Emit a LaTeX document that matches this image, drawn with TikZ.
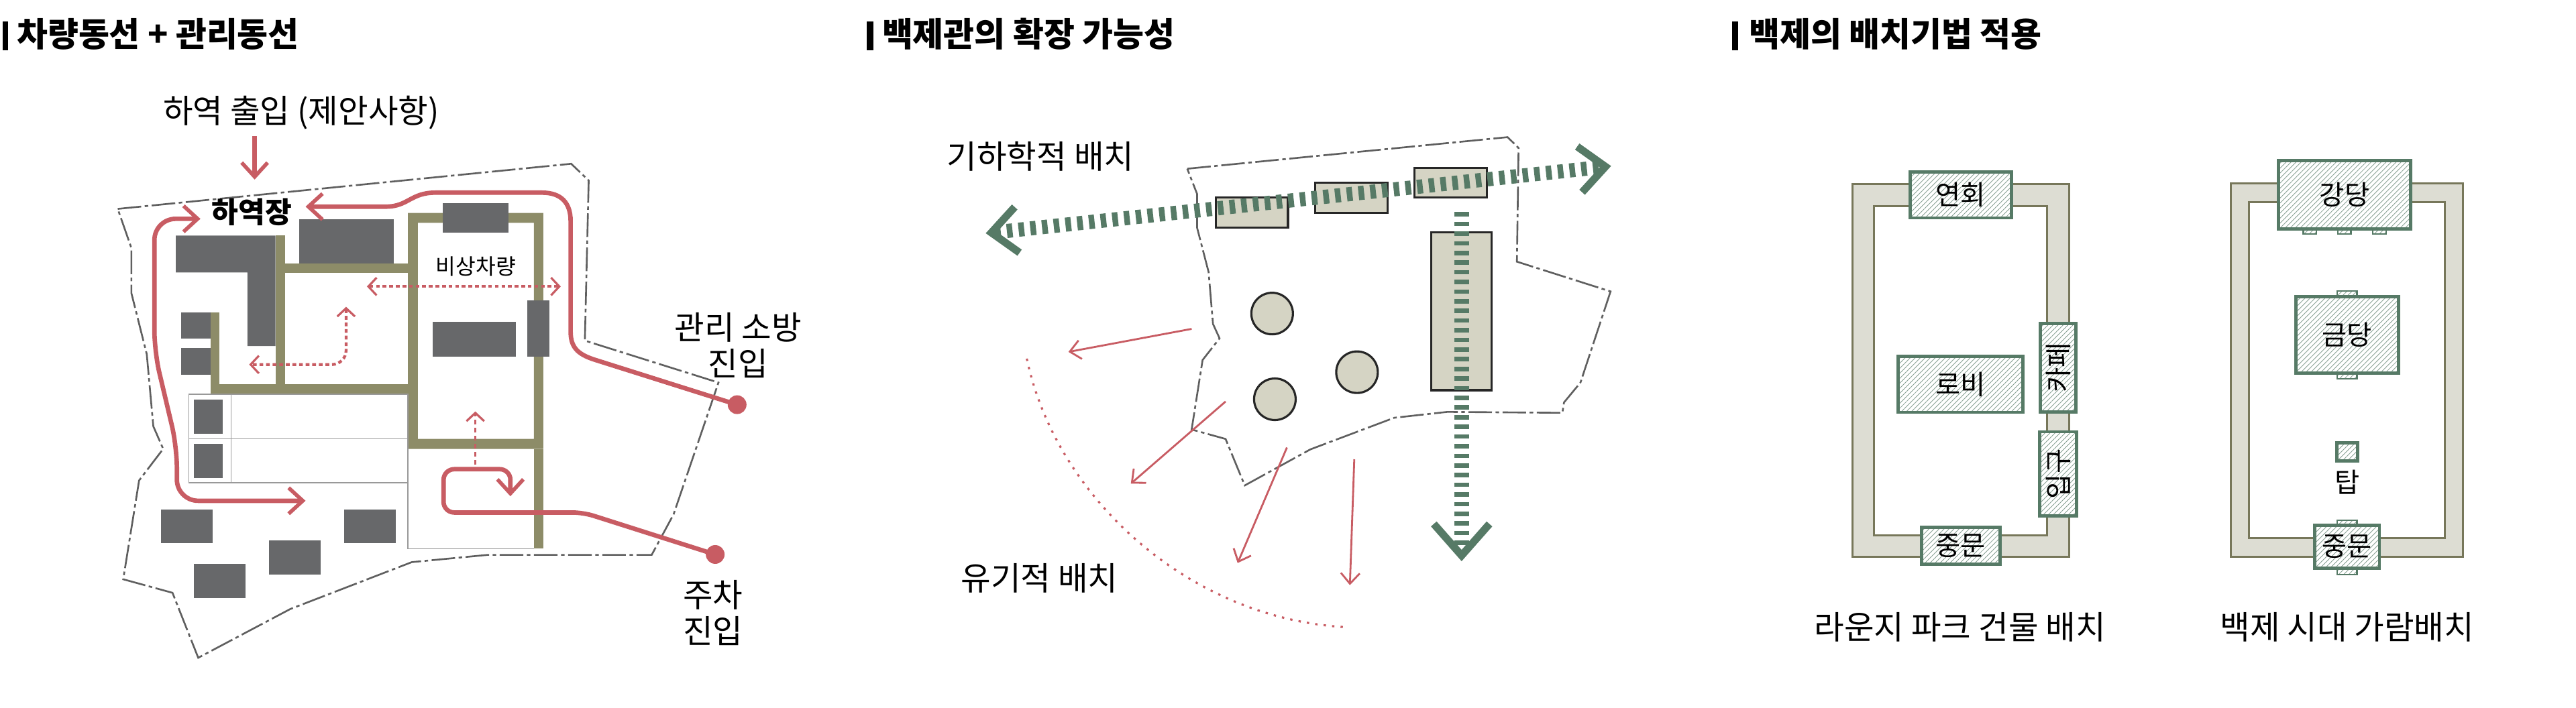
\documentclass[tikz,border=0pt]{standalone}
\usepackage{fontspec}
\setmainfont{Noto Sans CJK KR}
\usetikzlibrary{arrows.meta,shapes.geometric,patterns.meta}
\definecolor{bldgray}{HTML}{67686A}
\definecolor{roadolive}{HTML}{8D8C68}
\definecolor{routered}{HTML}{C85C63}
\definecolor{axisgreen}{HTML}{567A66}
\definecolor{masssand}{HTML}{D5D4C4}
\definecolor{wallsand}{HTML}{DDDDD3}
\definecolor{wallline}{HTML}{77775A}
\definecolor{siteline}{HTML}{5F5F5F}

\begin{document}
\begin{tikzpicture}[x=0.008163cm,y=-0.006722cm,
titletext/.style={anchor=west,inner sep=0pt,font=\fontsize{14.2}{16}\selectfont\bfseries},
titlebar/.style={fill=black},
lbl/.style={align=center,inner sep=0pt,font=\fontsize{13.8}{15.3}\selectfont},
smalllbl/.style={inner sep=0pt,font=\fontsize{9.2}{10}\selectfont},
site/.style={draw=siteline,line width=0.75pt,dash pattern=on 10pt off 1.5pt on 1.5pt off 1.5pt},
road/.style={fill=roadolive},
bld/.style={fill=bldgray},
lot/.style={draw=black!40,line width=0.4pt},
route/.style={draw=routered,line width=1.9pt,rounded corners=9pt},
routetip/.style={-{Straight Barb[length=6pt,width=11pt,line width=1.6pt]}},
fromtip/.style={{Straight Barb[length=6pt,width=11pt,line width=1.6pt]}-{Straight Barb[length=6pt,width=11pt,line width=1.6pt]}},
enddot/.style={circle,fill=routered,inner sep=0pt,minimum size=.28cm},
dotted route/.style={draw=routered,line width=1.2pt,dash pattern=on 1.6pt off 1.2pt,rounded corners=6pt},
dottip/.style={{Straight Barb[length=3.5pt,width=7.5pt,line width=0.9pt]}-{Straight Barb[length=3.5pt,width=7.5pt,line width=0.9pt]}},
dotone/.style={-{Straight Barb[length=3.5pt,width=7.5pt,line width=0.9pt]}},
mass/.style={draw=black!85,fill=masssand,line width=0.9pt},
roundbld/.style={circle,draw=black!85,fill=masssand,line width=0.9pt,inner sep=0pt,minimum size=.62cm},
axisline/.style={draw=axisgreen,line width=6pt,dash pattern=on 2.4pt off 2.6pt,{Straight Barb[length=11pt,width=19.5pt,line width=3.2pt]}-{Straight Barb[length=11pt,width=19.5pt,line width=3.2pt]}},
axisdown/.style={draw=axisgreen,line width=6.2pt,dash pattern=on 1.9pt off 2.2pt,-{Straight Barb[length=13.4pt,width=23.6pt,line width=3.2pt]}},
thinred/.style={draw=routered,line width=0.8pt,-{Straight Barb[length=4.5pt,width=8pt,line width=0.8pt]}},
arcdots/.style={draw=routered,line width=0.9pt,dash pattern=on 1pt off 2.6pt},
wall/.style={fill=wallsand,draw=wallline,line width=0.8pt,even odd rule},
hatchbox/.style={draw=axisgreen,line width=1.4pt,inner sep=0pt,preaction={fill=white},pattern={Lines[angle=45,distance=1.5pt,line width=0.25pt]},pattern color=axisgreen!70,font=\fontsize{11.5}{13}\selectfont},
tabbox/.style={draw=axisgreen,line width=0.6pt,preaction={fill=white},pattern={Lines[angle=45,distance=1.5pt,line width=0.25pt]},pattern color=axisgreen!70}]
\useasboundingbox (0,0) rectangle (4704,1568);

\fill[titlebar] (5,48) rectangle (15,112);
\node[titletext] (t1) at (30,76) {차량동선 + 관리동선};
\node[lbl] (l1) at (550,250) {하역 출입 (제안사항)};
\draw[site] (215,463) -- (1043,363) -- (1075,400) -- (1068,755) -- (1312,848) -- (1230,1140) -- (1190,1230) -- (890,1230) -- (752,1246) -- (530,1350) -- (362,1458) -- (315,1314) -- (225,1284) -- (254,1065) -- (298,995) -- (280,945) -- (268,785) -- (240,650) -- (240,550) -- cycle;
\fill[road,even odd rule] (745,472) rectangle (992,995) (763,494) rectangle (975,973);
\fill[road] (975,995) rectangle (992,1216);
\fill[road] (385,693) rectangle (400,852);
\fill[road] (385,852) rectangle (745,874);
\fill[road] (503,522) rectangle (521,852);
\fill[road] (521,584) rectangle (745,605);
\draw[lot] (345,874) rectangle (745,1070);
\draw[lot] (345,973) -- (745,973);
\draw[lot] (422,874) -- (422,1070);
\draw[lot] (975,1216) -- (745,1216) -- (745,995);
\fill[bld] (321,522) -- (503,522) -- (503,767) -- (452,767) -- (452,604) -- (321,604) -- cycle;
\fill[bld] (546,486) rectangle (719,584);
\fill[bld] (809,450) rectangle (928,516);
\fill[bld] (790,714) rectangle (942,791);
\fill[bld] (963,666) rectangle (1003,791);
\fill[bld] (331,693) rectangle (385,751);
\fill[bld] (331,772) rectangle (385,831);
\fill[bld] (354,885) rectangle (407,962);
\fill[bld] (354,984) rectangle (407,1060);
\fill[bld] (294,1129) rectangle (388,1204);
\fill[bld] (628,1129) rectangle (723,1204);
\fill[bld] (491,1198) rectangle (586,1273);
\fill[bld] (354,1250) rectangle (448,1325);
\node[inner sep=0pt,font=\fontsize{12.3}{14}\selectfont\bfseries] (yard) at (460,470) {하역장};
\node[smalllbl] (l2) at (869,590) {비상차량};
\node[enddot] (gate1) at (1346,897) {};
\node[enddot] (gate2) at (1306,1229) {};
\coordinate (inA) at (465,302);
\coordinate (inB) at (465,398);
\draw[route,routetip] (inA) -- (inB);
\draw[route,routetip,sharp corners] (gate1.center) -- (1085,797) .. controls (1055,785) and (1042,770) .. (1042,735) -- (1042,490) .. controls (1042,450) and (1025,427) .. (990,427) -- (795,427) .. controls (750,427) and (745,458) .. (705,458) -- (558,458);
\draw[route,fromtip] (366,485) -- (282,485) -- (282,780) -- (323,990) -- (323,1110) -- (558,1110);
\draw[route,routetip,rounded corners=4.5pt] (gate2.center) -- (1065,1136) -- (810,1136) -- (810,1040) -- (932,1040) -- (932,1100);
\draw[dotted route,dottip] (670,635) -- (1024,635);
\draw[dotted route,dottip] (632,680) -- (632,808) -- (455,808);
\draw[dotted route,dotone,line width=1pt,dash pattern=on 2pt off 1.4pt] (868,1030) -- (868,912);
\node[lbl] (l3) at (1348,765) {관리 소방\\진입};
\node[lbl] (l4) at (1302,1358) {주차\\진입};

\begin{scope}[shift={(1568,0)}]
\fill[titlebar] (15,48) rectangle (27,112);
\node[titletext] (t2) at (42,76) {백제관의 확장 가능성};
\node[lbl] (l5) at (332,347) {기하학적 배치};
\node[lbl] (l6) at (330,1282) {유기적 배치};
\draw[site] (600,374) -- (1185,304) -- (1205,328) -- (1202,580) -- (1373,646) -- (1318,848) -- (1288,892) -- (1285,915) -- (1075,913) -- (978,926) -- (825,996) -- (705,1076) -- (670,973) -- (608,952) -- (628,798) -- (659,750) -- (647,718) -- (639,603) -- (618,505) -- (618,430) -- cycle;
\draw[mass] (652,438) rectangle (784,505);
\draw[mass] (834,405) rectangle (966,472);
\draw[mass] (1015,372) rectangle (1147,438);
\draw[mass] (1046,515) rectangle (1156,865);
\node[roundbld] (c1) at (755,695) {};
\node[roundbld] (c2) at (760,885) {};
\node[roundbld] (c3) at (910,825) {};
\coordinate (axisW) at (232,517);
\coordinate (axisE) at (1374,368);
\draw[axisline] (axisW) -- (axisE);
\draw[axisdown] (1101,470) -- (1101,1244);
\draw[thinred] (608,729) -- (383,780);
\draw[thinred] (670,890) -- (497,1072);
\draw[thinred] (782,992) -- (692,1248);
\draw[thinred] (905,1018) -- (897,1297);
\draw[arcdots] (307,795) .. controls (360,1100) and (600,1370) .. (888,1390);
\end{scope}

\begin{scope}[shift={(3136,0)}]
\fill[titlebar] (27,48) rectangle (38,112);
\node[titletext] (t3) at (57,76) {백제의 배치기법 적용};
\draw[wall] (247,408) rectangle (642,1234) (286,457) rectangle (602,1187);
\node[hatchbox,minimum width=1.51cm,minimum height=.686cm] (banquet) at (444.5,432) {연회};
\node[hatchbox,minimum width=1.861cm,minimum height=.834cm] (lobby) at (444,852) {로비};
\node[hatchbox,rotate=90,minimum width=1.324cm,minimum height=.531cm] (cafe) at (622.5,815.5) {카페};
\node[hatchbox,rotate=90,minimum width=1.257cm,minimum height=.547cm] (entry) at (622.5,1050.5) {입구};
\node[hatchbox,minimum width=1.167cm,minimum height=.551cm] (gateA) at (444.5,1210) {중문};
\node[lbl] (l7) at (443,1390) {라운지 파크 건물 배치};
\draw[wall] (938,407) rectangle (1362,1234) (971,448) rectangle (1328,1193);
\foreach \tabx in {1070,1133,1197}
  \draw[tabbox] (\tabx,508) rectangle (\tabx+24,518);
\draw[tabbox] (1132,645) rectangle (1168,658);
\draw[tabbox] (1132,827) rectangle (1168,840);
\draw[tabbox] (1132,1153) rectangle (1168,1164);
\draw[tabbox] (1132,1260) rectangle (1168,1273);
\node[hatchbox,minimum width=1.967cm,minimum height=1.022cm] (hall) at (1145.5,432) {강당};
\node[hatchbox,minimum width=1.535cm,minimum height=1.136cm] (gold) at (1150,742.5) {금당};
\node[hatchbox,minimum width=.31cm,minimum height=.276cm] (tower) at (1150,1001.5) {};
\node[inner sep=0pt,font=\fontsize{11.5}{13}\selectfont] (towerlbl) at (1150,1068) {탑};
\node[hatchbox,minimum width=.963cm,minimum height=.645cm] (gateB) at (1150,1212) {중문};
\node[lbl] (l8) at (1150,1390) {백제 시대 가람배치};
\end{scope}
\end{tikzpicture}
\end{document}
